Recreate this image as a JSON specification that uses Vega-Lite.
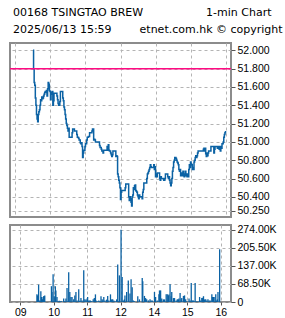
{
  "$schema": "https://vega.github.io/schema/vega-lite/v6.json",
  "padding": {"left": 8, "top": 7, "right": 0, "bottom": 0},
  "background": "white",
  "title": {
    "text": "00168 TSINGTAO BREW\u00a0\u00a0\u00a0\u00a0\u00a0\u00a0\u00a0\u00a0\u00a0\u00a0\u00a0\u00a0\u00a0\u00a0\u00a0\u00a0\u00a0\u00a01-min Chart",
    "subtitle": "2025/06/13 15:59\u00a0\u00a0\u00a0\u00a0\u00a0\u00a0\u00a0\u00a0etnet.com.hk © copyright",
    "anchor": "start",
    "frame": "group",
    "dx": 3,
    "font": "DejaVu Sans",
    "fontSize": 11,
    "fontWeight": "normal",
    "color": "#000000",
    "subtitleFont": "DejaVu Sans",
    "subtitleFontSize": 11,
    "subtitleColor": "#000000",
    "subtitlePadding": 6,
    "offset": 7
  },
  "datasets": {
    "price": [
      {"t":30,"p":52.00},{"t":31,"p":51.80},{"t":32,"p":51.65},{"t":33,"p":51.62},{"t":34,"p":51.48},{"t":35,"p":51.40},{"t":36,"p":51.30},{"t":37,"p":51.25},{"t":38,"p":51.22},{"t":39,"p":51.30},
      {"t":40,"p":51.33},{"t":41,"p":51.35},{"t":42,"p":51.40},{"t":43,"p":51.46},{"t":44,"p":51.45},{"t":45,"p":51.49},{"t":46,"p":51.47},{"t":47,"p":51.48},{"t":48,"p":51.50},{"t":49,"p":51.52},
      {"t":50,"p":51.54},{"t":51,"p":51.55},{"t":52,"p":51.54},{"t":53,"p":51.56},{"t":54,"p":51.50},{"t":55,"p":51.58},{"t":56,"p":51.65},{"t":57,"p":51.63},{"t":58,"p":51.56},{"t":59,"p":51.55},
      {"t":60,"p":51.46},{"t":61,"p":51.54},{"t":62,"p":51.52},{"t":63,"p":51.55},{"t":64,"p":51.40},{"t":65,"p":51.45},{"t":66,"p":51.53},{"t":67,"p":51.53},{"t":68,"p":51.53},{"t":69,"p":51.53},
      {"t":70,"p":51.53},{"t":71,"p":51.50},{"t":72,"p":51.46},{"t":73,"p":51.42},{"t":74,"p":51.40},{"t":75,"p":51.40},{"t":76,"p":51.44},{"t":77,"p":51.55},{"t":78,"p":51.55},{"t":79,"p":51.55},
      {"t":80,"p":51.55},{"t":81,"p":51.48},{"t":82,"p":51.45},{"t":83,"p":51.38},{"t":84,"p":51.35},{"t":85,"p":51.30},{"t":86,"p":51.25},{"t":87,"p":51.20},{"t":88,"p":51.18},{"t":89,"p":51.15},
      {"t":90,"p":51.12},{"t":91,"p":51.15},{"t":92,"p":51.05},{"t":93,"p":51.05},{"t":94,"p":51.05},{"t":95,"p":51.05},{"t":96,"p":51.05},{"t":97,"p":51.10},{"t":98,"p":51.14},{"t":99,"p":51.14},
      {"t":100,"p":51.14},{"t":101,"p":51.12},{"t":102,"p":51.12},{"t":103,"p":51.12},{"t":104,"p":51.12},{"t":105,"p":51.08},{"t":106,"p":51.05},{"t":107,"p":51.05},{"t":108,"p":51.04},{"t":109,"p":51.02},
      {"t":110,"p":51.02},{"t":111,"p":50.99},{"t":112,"p":50.98},{"t":113,"p":50.99},{"t":114,"p":50.95},{"t":115,"p":50.83},{"t":116,"p":50.88},{"t":117,"p":50.91},{"t":118,"p":50.91},{"t":119,"p":50.95},
      {"t":120,"p":50.98},{"t":121,"p":50.98},{"t":122,"p":51.02},{"t":123,"p":51.05},{"t":124,"p":51.05},{"t":125,"p":51.06},{"t":126,"p":51.06},{"t":127,"p":51.10},{"t":128,"p":51.10},{"t":129,"p":51.10},
      {"t":130,"p":51.10},{"t":131,"p":51.12},{"t":132,"p":51.14},{"t":133,"p":51.14},{"t":134,"p":51.02},{"t":135,"p":51.03},{"t":136,"p":51.02},{"t":137,"p":51.00},{"t":138,"p":51.00},{"t":139,"p":51.00},
      {"t":140,"p":51.00},{"t":141,"p":51.00},{"t":142,"p":51.00},{"t":143,"p":51.00},{"t":144,"p":50.96},{"t":145,"p":50.94},{"t":146,"p":50.94},{"t":147,"p":50.92},{"t":148,"p":50.90},{"t":149,"p":50.90},
      {"t":150,"p":50.88},{"t":151,"p":50.91},{"t":152,"p":50.91},{"t":153,"p":50.91},{"t":154,"p":50.91},{"t":155,"p":50.91},{"t":156,"p":50.91},{"t":157,"p":50.95},{"t":158,"p":50.91},{"t":159,"p":50.97},
      {"t":160,"p":50.91},{"t":161,"p":50.90},{"t":162,"p":50.90},{"t":163,"p":50.88},{"t":164,"p":50.86},{"t":165,"p":50.84},{"t":166,"p":50.86},{"t":167,"p":50.90},{"t":168,"p":50.90},{"t":169,"p":50.90},
      {"t":170,"p":50.90},{"t":171,"p":50.90},{"t":172,"p":50.84},{"t":173,"p":50.85},{"t":174,"p":50.84},{"t":175,"p":50.65},{"t":176,"p":50.62},{"t":177,"p":50.58},{"t":178,"p":50.55},{"t":179,"p":50.50},
      {"t":180,"p":50.37},{"t":181,"p":50.45},{"t":182,"p":50.47},{"t":183,"p":50.47},{"t":184,"p":50.47},{"t":185,"p":50.47},{"t":186,"p":50.47},{"t":187,"p":50.47},{"t":188,"p":50.50},{"t":189,"p":50.54},
      {"t":190,"p":50.54},{"t":191,"p":50.54},{"t":192,"p":50.54},{"t":193,"p":50.54},{"t":194,"p":50.40},{"t":195,"p":50.36},{"t":196,"p":50.40},{"t":197,"p":50.38},{"t":198,"p":50.34},{"t":199,"p":50.30},
      {"t":200,"p":50.40},{"t":201,"p":50.42},{"t":202,"p":50.50},{"t":203,"p":50.48},{"t":204,"p":50.52},{"t":205,"p":50.53},{"t":206,"p":50.47},{"t":207,"p":50.46},{"t":208,"p":50.45},{"t":209,"p":50.42},
      {"t":210,"p":50.40},{"t":211,"p":50.38},{"t":212,"p":50.42},{"t":213,"p":50.40},{"t":214,"p":50.40},{"t":215,"p":50.40},{"t":216,"p":50.40},{"t":217,"p":50.38},{"t":218,"p":50.45},{"t":219,"p":50.48},
      {"t":220,"p":50.55},{"t":221,"p":50.55},{"t":222,"p":50.55},{"t":223,"p":50.55},{"t":224,"p":50.55},{"t":225,"p":50.60},{"t":226,"p":50.65},{"t":227,"p":50.66},{"t":228,"p":50.68},{"t":229,"p":50.70},
      {"t":230,"p":50.72},{"t":231,"p":50.75},{"t":232,"p":50.73},{"t":233,"p":50.72},{"t":234,"p":50.72},{"t":235,"p":50.72},{"t":236,"p":50.72},{"t":237,"p":50.75},{"t":238,"p":50.70},{"t":239,"p":50.73},
      {"t":240,"p":50.62},{"t":241,"p":50.65},{"t":242,"p":50.62},{"t":243,"p":50.66},{"t":244,"p":50.66},{"t":245,"p":50.66},{"t":246,"p":50.66},{"t":247,"p":50.60},{"t":248,"p":50.58},{"t":249,"p":50.62},
      {"t":250,"p":50.60},{"t":251,"p":50.60},{"t":252,"p":50.60},{"t":253,"p":50.60},{"t":254,"p":50.58},{"t":255,"p":50.58},{"t":256,"p":50.60},{"t":257,"p":50.65},{"t":258,"p":50.65},{"t":259,"p":50.65},
      {"t":260,"p":50.65},{"t":261,"p":50.62},{"t":262,"p":50.60},{"t":263,"p":50.62},{"t":264,"p":50.58},{"t":265,"p":50.55},{"t":266,"p":50.52},{"t":267,"p":50.55},{"t":268,"p":50.60},{"t":269,"p":50.68},
      {"t":270,"p":50.72},{"t":271,"p":50.78},{"t":272,"p":50.80},{"t":273,"p":50.83},{"t":274,"p":50.83},{"t":275,"p":50.82},{"t":276,"p":50.80},{"t":277,"p":50.78},{"t":278,"p":50.77},{"t":279,"p":50.75},
      {"t":280,"p":50.70},{"t":281,"p":50.68},{"t":282,"p":50.70},{"t":283,"p":50.63},{"t":284,"p":50.65},{"t":285,"p":50.66},{"t":286,"p":50.63},{"t":287,"p":50.68},{"t":288,"p":50.65},{"t":289,"p":50.62},
      {"t":290,"p":50.65},{"t":291,"p":50.68},{"t":292,"p":50.63},{"t":293,"p":50.65},{"t":294,"p":50.62},{"t":295,"p":50.65},{"t":296,"p":50.62},{"t":297,"p":50.70},{"t":298,"p":50.75},{"t":299,"p":50.72},
      {"t":300,"p":50.78},{"t":301,"p":50.76},{"t":302,"p":50.75},{"t":303,"p":50.70},{"t":304,"p":50.72},{"t":305,"p":50.70},{"t":306,"p":50.78},{"t":307,"p":50.80},{"t":308,"p":50.83},{"t":309,"p":50.85},
      {"t":310,"p":50.83},{"t":311,"p":50.85},{"t":312,"p":50.88},{"t":313,"p":50.90},{"t":314,"p":50.90},{"t":315,"p":50.90},{"t":316,"p":50.90},{"t":317,"p":50.90},{"t":318,"p":50.90},{"t":319,"p":50.90},
      {"t":320,"p":50.90},{"t":321,"p":50.90},{"t":322,"p":50.92},{"t":323,"p":50.93},{"t":324,"p":50.90},{"t":325,"p":50.93},{"t":326,"p":50.87},{"t":327,"p":50.84},{"t":328,"p":50.88},{"t":329,"p":50.85},
      {"t":330,"p":50.88},{"t":331,"p":50.90},{"t":332,"p":50.90},{"t":333,"p":50.90},{"t":334,"p":50.90},{"t":335,"p":50.95},{"t":336,"p":50.95},{"t":337,"p":50.95},{"t":338,"p":50.95},{"t":339,"p":50.95},
      {"t":340,"p":50.88},{"t":341,"p":50.92},{"t":342,"p":50.95},{"t":343,"p":50.95},{"t":344,"p":50.95},{"t":345,"p":50.95},{"t":346,"p":50.93},{"t":347,"p":50.93},{"t":348,"p":50.95},{"t":349,"p":50.92},
      {"t":350,"p":50.95},{"t":351,"p":50.90},{"t":352,"p":50.95},{"t":353,"p":50.93},{"t":354,"p":50.98},{"t":355,"p":50.98},{"t":356,"p":51.00},{"t":357,"p":51.05},{"t":358,"p":51.08},{"t":359,"p":51.10},
      {"t":360,"p":51.12}
    ],
    "volume": [
      {"t":30,"v":29000},{"t":31,"v":25000},{"t":33,"v":66000},{"t":35,"v":6000},{"t":37,"v":41000},{"t":38,"v":19000},{"t":39,"v":10000},{"t":40,"v":10000},{"t":41,"v":19000},{"t":42,"v":22000},
      {"t":43,"v":22000},{"t":44,"v":25000},{"t":56,"v":60000},{"t":57,"v":38000},{"t":59,"v":105000},{"t":61,"v":22000},{"t":63,"v":60000},{"t":64,"v":44000},{"t":66,"v":19000},{"t":68,"v":3000},
      {"t":70,"v":5000},{"t":72,"v":3000},{"t":74,"v":3000},{"t":78,"v":13000},{"t":80,"v":3000},{"t":82,"v":13000},{"t":84,"v":53000},{"t":86,"v":3000},{"t":87,"v":113000},{"t":89,"v":38000},
      {"t":91,"v":19000},{"t":93,"v":19000},{"t":96,"v":10000},{"t":98,"v":25000},{"t":100,"v":38000},{"t":102,"v":6000},{"t":105,"v":48000},{"t":107,"v":5000},{"t":109,"v":15000},{"t":111,"v":6000},
      {"t":114,"v":120000},{"t":116,"v":10000},{"t":118,"v":9000},{"t":120,"v":13000},{"t":121,"v":19000},{"t":123,"v":6000},{"t":125,"v":6000},{"t":126,"v":5000},{"t":128,"v":3000},{"t":131,"v":10000},
      {"t":133,"v":15000},{"t":135,"v":29000},{"t":136,"v":6000},{"t":138,"v":3000},{"t":141,"v":6000},{"t":143,"v":3000},{"t":145,"v":22000},{"t":147,"v":10000},{"t":148,"v":6000},{"t":150,"v":19000},
      {"t":152,"v":6000},{"t":155,"v":9000},{"t":157,"v":23000},{"t":159,"v":6000},{"t":162,"v":29000},{"t":164,"v":10000},{"t":166,"v":10000},{"t":168,"v":6000},{"t":170,"v":3000},{"t":173,"v":10000},
      {"t":175,"v":142000},{"t":177,"v":3000},{"t":178,"v":101000},{"t":181,"v":274000},{"t":183,"v":95000},{"t":185,"v":6000},{"t":187,"v":10000},{"t":188,"v":25000},{"t":191,"v":38000},{"t":194,"v":82000},
      {"t":197,"v":32000},{"t":199,"v":86000},{"t":201,"v":56000},{"t":203,"v":6000},{"t":205,"v":3000},{"t":211,"v":22000},{"t":214,"v":10000},{"t":219,"v":91000},{"t":220,"v":79000},{"t":223,"v":23000},
      {"t":225,"v":15000},{"t":227,"v":10000},{"t":230,"v":6000},{"t":233,"v":10000},{"t":235,"v":6000},{"t":237,"v":6000},{"t":241,"v":38000},{"t":243,"v":19000},{"t":246,"v":6000},{"t":249,"v":29000},
      {"t":250,"v":44000},{"t":252,"v":44000},{"t":254,"v":13000},{"t":257,"v":10000},{"t":259,"v":10000},{"t":262,"v":29000},{"t":264,"v":29000},{"t":266,"v":25000},{"t":267,"v":28000},{"t":269,"v":67000},
      {"t":271,"v":22000},{"t":272,"v":38000},{"t":275,"v":15000},{"t":277,"v":15000},{"t":280,"v":6000},{"t":282,"v":10000},{"t":284,"v":10000},{"t":285,"v":13000},{"t":287,"v":34000},{"t":289,"v":10000},
      {"t":290,"v":15000},{"t":293,"v":23000},{"t":295,"v":25000},{"t":297,"v":10000},{"t":299,"v":3000},{"t":303,"v":13000},{"t":305,"v":6000},{"t":307,"v":72000},{"t":309,"v":6000},{"t":311,"v":6000},
      {"t":312,"v":3000},{"t":314,"v":72000},{"t":316,"v":3000},{"t":319,"v":3000},{"t":322,"v":19000},{"t":324,"v":6000},{"t":326,"v":15000},{"t":327,"v":16000},{"t":329,"v":22000},{"t":331,"v":10000},
      {"t":333,"v":10000},{"t":335,"v":6000},{"t":337,"v":10000},{"t":339,"v":6000},{"t":341,"v":6000},{"t":344,"v":29000},{"t":345,"v":19000},{"t":347,"v":19000},{"t":348,"v":19000},{"t":351,"v":29000},
      {"t":352,"v":6000},{"t":354,"v":10000},{"t":355,"v":38000},{"t":358,"v":200000}
    ],
    "ref": [{"prev_close": 51.8}]
  },
  "vconcat": [
    {
      "width": 221,
      "height": 174,
      "layer": [
        {
          "data": {"name": "price"},
          "mark": {"type": "line", "interpolate": "step-after", "color": "#0b62a4", "strokeWidth": 1.5},
          "encoding": {
            "x": {
              "field": "t", "type": "quantitative",
              "scale": {"domain": [-9.4, 369.4], "nice": false, "zero": false},
              "axis": {"values": [0, 60, 120, 180, 240, 300, 360], "labels": false, "ticks": false, "domain": false, "title": null,
                       "grid": true, "gridColor": "#b4b4b4", "gridDash": [3, 3], "gridWidth": 1}
            },
            "y": {
              "field": "p", "type": "quantitative",
              "scale": {"domain": [50.18, 52.08], "nice": false, "zero": false},
              "axis": {"orient": "right", "values": [50.25, 50.4, 50.6, 50.8, 51.0, 51.2, 51.4, 51.6, 51.8, 52.0], "format": ".3f", "title": null,
                       "labelOverlap": false, "labelBound": false, "tickCount": 10,
                       "domain": false, "grid": true, "gridColor": "#b4b4b4", "gridDash": [3, 3], "gridWidth": 1}
            }
          }
        },
        {
          "data": {"name": "ref"},
          "mark": {"type": "rule", "color": "#ff0a82", "strokeWidth": 1.5},
          "encoding": {
            "y": {
              "field": "prev_close", "type": "quantitative",
              "scale": {"domain": [50.18, 52.08], "nice": false, "zero": false},
              "axis": {"orient": "right", "values": [50.25, 50.4, 50.6, 50.8, 51.0, 51.2, 51.4, 51.6, 51.8, 52.0], "format": ".3f", "title": null,
                       "labelOverlap": false, "labelBound": false, "tickCount": 10,
                       "domain": false, "grid": true, "gridColor": "#b4b4b4", "gridDash": [3, 3], "gridWidth": 1}
            }
          }
        }
      ]
    },
    {
      "width": 221,
      "height": 77,
      "data": {"name": "volume"},
      "mark": {"type": "bar", "color": "#0b62a4", "size": 1.3},
      "encoding": {
        "x": {
          "field": "t", "type": "quantitative",
          "scale": {"domain": [-9.4, 369.4], "nice": false, "zero": false},
          "axis": {"values": [0, 60, 120, 180, 240, 300, 360], "title": null, "domain": false, "labelOverlap": false,
                   "labelExpr": "datum.value == 0 ? '09' : datum.value == 60 ? '10' : datum.value == 120 ? '11' : datum.value == 180 ? '12' : datum.value == 240 ? '14' : datum.value == 300 ? '15' : '16'",
                   "grid": true, "gridColor": "#b4b4b4", "gridDash": [3, 3], "gridWidth": 1, "tickSize": 3}
        },
        "y": {
          "field": "v", "type": "quantitative",
          "scale": {"domain": [0, 292000], "nice": false},
          "axis": {"orient": "right", "values": [0, 68500, 137000, 205500, 274000], "title": null, "domain": false, "labelOverlap": false,
                   "labelExpr": "datum.value == 0 ? '0' : format(datum.value / 1000, '.2f') + 'K'",
                   "grid": true, "gridColor": "#b4b4b4", "gridDash": [3, 3], "gridWidth": 1}
        }
      }
    }
  ],
  "spacing": 5,
  "config": {
    "view": {"stroke": "#8c8c8c", "strokeWidth": 2},
    "axis": {"labelFont": "Liberation Sans", "labelFontSize": 10.5, "labelColor": "#000000", "tickColor": "#555555", "tickSize": 4, "labelPadding": 2, "labelFlush": false, "labelOverlap": false}
  }
}
